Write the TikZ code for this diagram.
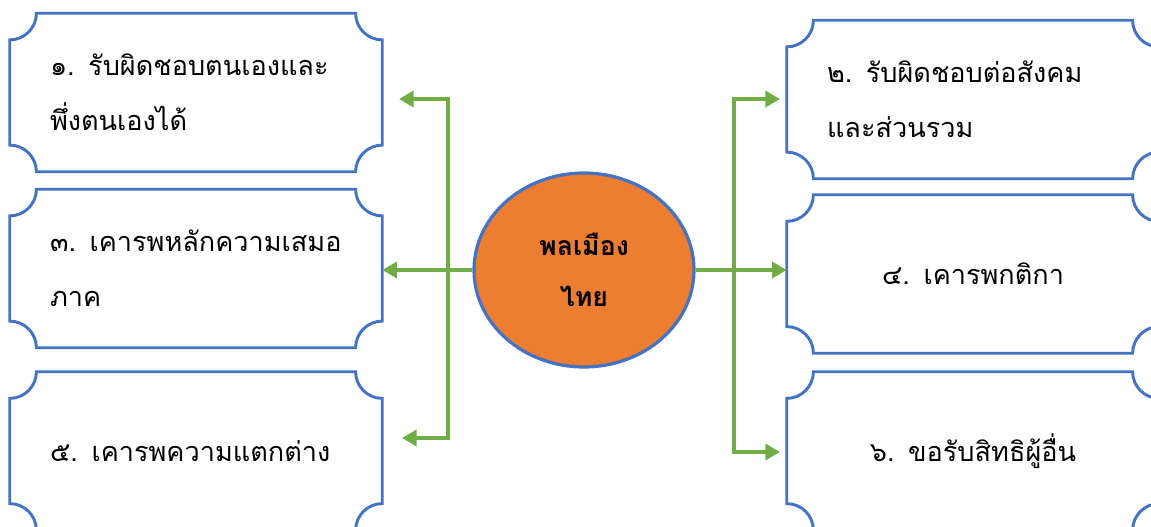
\documentclass[tikz,border=0pt]{standalone}
\usepackage{fontspec}
\newfontfamily\thaifont[Script=Thai]{Loma}
\usepackage{tikz}
\usetikzlibrary{positioning}
\usetikzlibrary{calc}
\usetikzlibrary{arrows.meta}
\usetikzlibrary{shapes.geometric}

\definecolor{plaqueblue}{HTML}{4472C4}
\definecolor{civicorange}{HTML}{ED7D31}
\definecolor{linkgreen}{HTML}{70AD47}

\tikzset{
  duty/.style={minimum width=279pt,minimum height=118.5pt,inner xsep=30pt,
    text width=219pt,font=\thaifont\fontsize{20.3}{41}\selectfont},
  plaqueline/.style={draw=plaqueblue,line width=2.2pt},
  link/.style={draw=linkgreen,line width=2.6pt,>={Triangle[length=11pt,width=12pt]}}
}

\begin{document}
\begin{tikzpicture}[x=0.75pt,y=-0.75pt]
  \useasboundingbox (0,0) rectangle (1151,527);
  \node (civic)   [ellipse,draw=plaqueblue,line width=2.4pt,fill=civicorange,
                   minimum width=165pt,minimum height=145.5pt,align=center,
                   font=\thaifont\bfseries\fontsize{20}{38}\selectfont] at (584,270) {พลเมือง\\ไทย};
  \node (one)     [duty,align=left]   at (196,92.5)  {๑. รับผิดชอบตนเองและ\\พึ่งตนเองได้};
  \node (three)   [duty,align=left]   at (196,268.5) {๓. เคารพหลักความเสมอ\\ภาค};
  \node (five)    [duty,align=left]   at (196,451)   {๕. เคารพความแตกต่าง};
  \node (two)     [duty,align=left]   at (973,99.5)  {๒. รับผิดชอบต่อสังคม\\และส่วนรวม};
  \node (four)    [duty,align=center] at (973,274)   {๔. เคารพกติกา};
  \node (six)     [duty,align=center] at (973,451)   {๖. ขอรับสิทธิผู้อื่น};
  % plaque outlines, drawn from the node frames
  \foreach \plq in {one,two,three,four,five,six}
    \draw[plaqueline] let \p1=(\plq.north west), \p2=(\plq.south east) in
      (\x1,\y1-20pt) arc[start angle=270,end angle=360,radius=20pt]
      -- (\x2-20pt,\y1) arc[start angle=180,end angle=270,radius=20pt]
      -- (\x2,\y2+20pt) arc[start angle=90,end angle=180,radius=20pt]
      -- (\x1+20pt,\y2) arc[start angle=0,end angle=90,radius=20pt]
      -- cycle;
  \coordinate (lup)     at (448,99);
  \coordinate (ldown)   at (448,438);
  \coordinate (onetip)  at (399,99);
  \coordinate (fivetip) at (402,438);
  \coordinate (rup)     at (734,99);
  \coordinate (rdown)   at (734,452);
  \coordinate (twotip)  at (780,99);
  \coordinate (sixtip)  at (780,452);
  \draw[link,->] (civic.west) -- (civic.west -| three.east);
  \draw[link,->] (civic.east) -- (civic.east -| four.west);
  \draw[link,<->] (onetip) -- (lup) -- (ldown) -- (fivetip);
  \draw[link,<->] (twotip) -- (rup) -- (rdown) -- (sixtip);
\end{tikzpicture}
\end{document}
